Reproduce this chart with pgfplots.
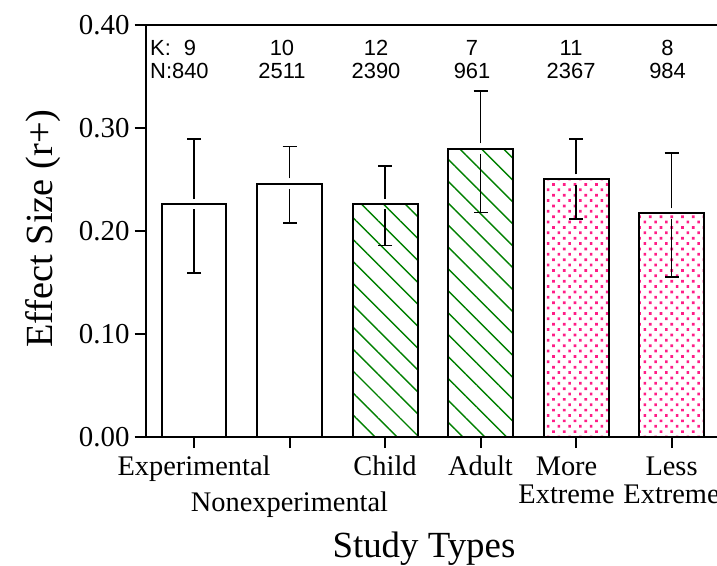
\documentclass[border=0pt]{standalone}
\usepackage{fontspec}
\setmainfont{Liberation Serif}
\newfontfamily\hv{Liberation Sans}
\usepackage{pgfplots}
\pgfplotsset{compat=1.18}
\usepackage{pgfplotstable}
\usetikzlibrary{patterns.meta}
\definecolor{pgreen}{RGB}{0,128,0}
\definecolor{ppink}{RGB}{255,30,135}

\pgfplotstableread{
x y up lo
0 0.226 0.289 0.159
1 0.246 0.282 0.208
2 0.226 0.263 0.186
3 0.280 0.336 0.218
4 0.250 0.289 0.212
5 0.217 0.276 0.155
}\effects

\begin{document}
\begin{tikzpicture}
\begin{axis}[
  name=ax,
  scale only axis, width=571.3bp, height=412bp,
  xmin=-0.506, xmax=5.476, ymin=0, ymax=0.40,
  axis x line=box, axis y line=left,
  axis line style={-, line width=2bp},
  xtick pos=left, ytick pos=left, tick align=outside,
  major tick length=11bp, tick style={line width=2bp, black},
  xtick={0,1,2,3,4,5},
  xticklabels={{\strut Experimental},{\strut\\[7bp]Nonexperimental},{\strut Child},{\strut Adult},{\strut More\rule{19bp}{0pt}\\Extreme\rule{19bp}{0pt}},{\strut Less\\Extreme}},
  xticklabel style={align=center, inner sep=0pt, yshift=-8bp, font=\fontsize{28.5}{28}\selectfont},
  ytick={0,0.1,0.2,0.3,0.4},
  yticklabel style={inner sep=0pt, xshift=-5bp, font=\fontsize{29}{30}\selectfont, /pgf/number format/.cd, fixed, fixed zerofill, precision=2, assume math mode=true},
  ylabel={Effect Size (r+)},
  ylabel style={font=\fontsize{38.5}{40}\selectfont, at={(rel axis cs:-0.164,0.506)}, anchor=base, rotate=0},
  xlabel={Study Types},
  xlabel style={font=\fontsize{37}{40}\selectfont, at={(rel axis cs:0.487,-0.292)}, anchor=base},
]
\addplot[ybar, bar width=0.68, bar shift=0pt, draw=black, line width=2bp, fill=white,
  restrict x to domain=-0.1:1.1] table[x=x, y=y] {\effects};
\addplot[ybar, bar width=0.68, bar shift=0pt, draw=black, line width=2bp,
  pattern={Lines[angle=-45, distance=15.5bp, line width=1.4bp]}, pattern color=pgreen,
  restrict x to domain=1.9:3.1] table[x=x, y=y] {\effects};
\addplot[ybar, bar width=0.68, bar shift=0pt, draw=black, line width=2bp,
  pattern={Dots[angle=45, distance=7.6bp, radius=1.9bp]}, pattern color=ppink,
  restrict x to domain=3.9:5.1] table[x=x, y=y] {\effects};
% error bars (upper and lower parts, with a small gap at the bar top)
\addplot[draw=none, forget plot, error bars/.cd, y dir=plus, y explicit,
  error bar style={draw=black, line width=1.8bp},
  error mark options={draw=black, rotate=90, mark size=7bp, line width=1.8bp}]
  table[x=x, y expr=\thisrow{y}+0.005, y error expr=\thisrow{up}-\thisrow{y}-0.005] {\effects};
\addplot[draw=none, forget plot, error bars/.cd, y dir=minus, y explicit,
  error bar style={draw=black, line width=1.8bp},
  error mark options={draw=black, rotate=90, mark size=7bp, line width=1.8bp}]
  table[x=x, y expr=\thisrow{y}-0.005, y error expr=\thisrow{y}-\thisrow{lo}-0.005] {\effects};
% K and N annotations
\begin{scope}[font=\hv\fontsize{22}{24}\selectfont]
\node[anchor=base west, inner sep=0pt] at (axis cs:-0.461,0.3702) {K:};
\node[anchor=base, inner sep=0pt] at (axis cs:-0.042,0.3702) {9};
\node[anchor=base west, inner sep=0pt] at (axis cs:-0.461,0.3476) {N:840};
\node[anchor=base, inner sep=0pt] at (axis cs:0.921,0.3702) {10};
\node[anchor=base, inner sep=0pt] at (axis cs:0.921,0.3476) {2511};
\node[anchor=base, inner sep=0pt] at (axis cs:1.906,0.3702) {12};
\node[anchor=base, inner sep=0pt] at (axis cs:1.906,0.3476) {2390};
\node[anchor=base, inner sep=0pt] at (axis cs:2.911,0.3702) {7};
\node[anchor=base, inner sep=0pt] at (axis cs:2.911,0.3476) {961};
\node[anchor=base, inner sep=0pt] at (axis cs:3.948,0.3702) {11};
\node[anchor=base, inner sep=0pt] at (axis cs:3.948,0.3476) {2367};
\node[anchor=base, inner sep=0pt] at (axis cs:4.958,0.3702) {8};
\node[anchor=base, inner sep=0pt] at (axis cs:4.958,0.3476) {984};
\end{scope}
\end{axis}
\pgfresetboundingbox
\path (ax.south west) ++(-145.7bp,-129bp) rectangle ++(717bp,566bp);
\end{tikzpicture}
\end{document}
